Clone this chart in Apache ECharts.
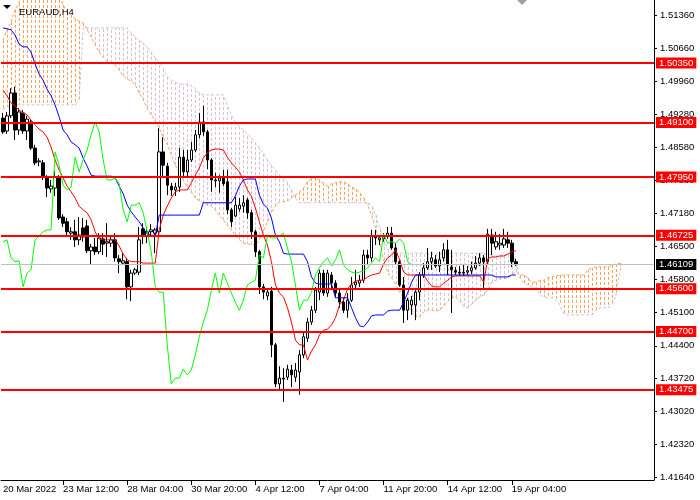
<!DOCTYPE html>
<html><head><meta charset="utf-8">
<script src="https://cdn.jsdelivr.net/npm/echarts@6/dist/echarts.min.js"></script>
<style>html,body{margin:0;padding:0;background:#fff}#c{width:700px;height:500px}</style>
</head><body><div id="c"></div>
<script>
// ---- data ----
const symbolTitle = 'EURAUD,H4';
const tickBars = [0, 15, 31, 47, 63, 79, 95, 111, 127];
const tickLabels = ['20 Mar 2022','23 Mar 12:00','28 Mar 04:00','30 Mar 20:00','4 Apr 12:00','7 Apr 04:00','11 Apr 20:00','14 Apr 12:00','19 Apr 04:00'];
const yTicks = [1.5136,1.5066,1.4996,1.4928,1.4858,1.4788,1.4718,1.4650,1.4580,1.4510,1.4440,1.4372,1.4302,1.4232,1.4164];
const yMin = 1.41577, yMax = 1.51676;
const levels = [1.5035, 1.4910, 1.4795, 1.46725, 1.4560, 1.4470, 1.43475];
const lastPrice = 1.46109;
const slotCount = 163;

const opens = [1.4919,1.4892,1.4924,1.4972,1.4894,1.4930,1.4892,1.4911,1.4856,1.4827,
1.4825,1.4795,1.4770,1.4772,1.4793,1.4711,1.4701,1.4677,1.4680,1.4663,
1.4688,1.4692,1.4640,1.4648,1.4638,1.4665,1.4656,1.4656,1.4663,1.4623,
1.4614,1.4617,1.4564,1.4593,1.4595,1.4686,1.4671,1.4680,1.4677,1.4680,
1.4848,1.4818,1.4776,1.4768,1.4774,1.4837,1.4806,1.4831,1.4852,1.4884,
1.4911,1.4890,1.4831,1.4787,1.4787,1.4793,1.4785,1.4726,1.4713,1.4728,
1.4734,1.4747,1.4720,1.4680,1.4638,1.4564,1.4545,1.4555,1.4442,1.4360,
1.4370,1.4374,1.4389,1.4374,1.4385,1.4421,1.4456,1.4490,1.4515,1.4553,
1.4593,1.4551,1.4589,1.4572,1.4551,1.4532,1.4515,1.4536,1.4568,1.4572,
1.4578,1.4631,1.4625,1.4671,1.4663,1.4665,1.4671,1.4677,1.4646,1.4617,
1.4568,1.4515,1.4526,1.4526,1.4553,1.4589,1.4604,1.4617,1.4621,1.4608,
1.4625,1.4642,1.4606,1.4598,1.4595,1.4593,1.4595,1.4598,1.4604,1.4614,
1.4625,1.4617,1.4673,1.4648,1.4652,1.4652,1.4663,1.4656,1.4617];
const closes = [1.4890,1.4924,1.4972,1.4894,1.4932,1.4892,1.4917,1.4856,1.4825,1.4829,
1.4795,1.4772,1.4776,1.4795,1.4709,1.4698,1.4680,1.4680,1.4663,1.4673,
1.4669,1.4640,1.4648,1.4638,1.4667,1.4654,1.4659,1.4663,1.4625,1.4617,
1.4619,1.4564,1.4593,1.4600,1.4663,1.4671,1.4680,1.4684,1.4684,1.4848,
1.4820,1.4778,1.4768,1.4774,1.4837,1.4806,1.4831,1.4852,1.4884,1.4911,
1.4890,1.4831,1.4789,1.4789,1.4793,1.4781,1.4726,1.4701,1.4736,1.4736,
1.4741,1.4720,1.4680,1.4638,1.4564,1.4553,1.4553,1.4442,1.4360,1.4372,
1.4372,1.4391,1.4379,1.4389,1.4421,1.4459,1.4490,1.4515,1.4557,1.4593,
1.4551,1.4593,1.4572,1.4551,1.4532,1.4515,1.4536,1.4568,1.4574,1.4578,
1.4631,1.4625,1.4671,1.4667,1.4667,1.4671,1.4677,1.4646,1.4617,1.4568,
1.4515,1.4536,1.4536,1.4553,1.4589,1.4604,1.4617,1.4625,1.4608,1.4621,
1.4642,1.4610,1.4600,1.4595,1.4593,1.4595,1.4598,1.4604,1.4614,1.4625,
1.4617,1.4675,1.4656,1.4659,1.4656,1.4665,1.4656,1.4617,1.4611];
const lows = [1.4886,1.4886,1.4919,1.4873,1.4884,1.4886,1.4873,1.4852,1.4820,1.4818,
1.4789,1.4753,1.4762,1.4755,1.4705,1.4690,1.4671,1.4663,1.4648,1.4652,
1.4659,1.4635,1.4610,1.4631,1.4633,1.4631,1.4627,1.4648,1.4617,1.4593,
1.4610,1.4538,1.4534,1.4589,1.4589,1.4654,1.4656,1.4669,1.4635,1.4671,
1.4793,1.4757,1.4755,1.4755,1.4764,1.4793,1.4795,1.4827,1.4848,1.4877,
1.4882,1.4812,1.4764,1.4774,1.4762,1.4776,1.4717,1.4690,1.4711,1.4722,
1.4720,1.4707,1.4665,1.4627,1.4549,1.4538,1.4536,1.4416,1.4353,1.4347,
1.4322,1.4368,1.4353,1.4364,1.4337,1.4414,1.4448,1.4484,1.4509,1.4536,
1.4545,1.4543,1.4557,1.4541,1.4520,1.4509,1.4499,1.4532,1.4557,1.4564,
1.4572,1.4610,1.4617,1.4652,1.4652,1.4659,1.4665,1.4642,1.4612,1.4564,
1.4488,1.4494,1.4505,1.4494,1.4536,1.4583,1.4600,1.4600,1.4604,1.4595,
1.4617,1.4589,1.4509,1.4589,1.4587,1.4587,1.4589,1.4591,1.4600,1.4608,
1.4562,1.4610,1.4631,1.4642,1.4642,1.4646,1.4646,1.4606,1.4608];
const highs = [1.4930,1.4932,1.4982,1.4985,1.4940,1.4936,1.4924,1.4915,1.4863,1.4835,
1.4831,1.4799,1.4789,1.4808,1.4799,1.4717,1.4709,1.4690,1.4705,1.4711,
1.4709,1.4705,1.4654,1.4667,1.4677,1.4677,1.4698,1.4673,1.4677,1.4631,
1.4635,1.4625,1.4600,1.4604,1.4690,1.4698,1.4690,1.4696,1.4688,1.4898,
1.4879,1.4825,1.4783,1.4783,1.4856,1.4852,1.4852,1.4869,1.4894,1.4930,
1.4945,1.4894,1.4835,1.4804,1.4799,1.4810,1.4810,1.4730,1.4753,1.4751,
1.4757,1.4751,1.4726,1.4684,1.4642,1.4570,1.4560,1.4564,1.4446,1.4397,
1.4393,1.4400,1.4400,1.4404,1.4431,1.4467,1.4499,1.4524,1.4564,1.4600,
1.4600,1.4600,1.4595,1.4578,1.4562,1.4541,1.4551,1.4585,1.4600,1.4589,
1.4642,1.4642,1.4684,1.4684,1.4671,1.4677,1.4690,1.4690,1.4656,1.4621,
1.4585,1.4541,1.4545,1.4557,1.4595,1.4614,1.4646,1.4638,1.4631,1.4638,
1.4656,1.4663,1.4642,1.4606,1.4608,1.4612,1.4608,1.4617,1.4629,1.4635,
1.4631,1.4686,1.4686,1.4680,1.4675,1.4686,1.4680,1.4663,1.4623];

const tenkan = [1.4978,1.4966,1.4951,1.4945,1.4936,1.4930,1.4926,1.4915,1.4905,1.4896,
1.4890,1.4879,1.4858,1.4831,1.4810,1.4793,1.4776,1.4764,1.4751,1.4734,
1.4726,1.4720,1.4705,1.4680,1.4665,1.4663,1.4663,1.4663,1.4663,1.4650,
1.4633,1.4621,1.4617,1.4617,1.4617,1.4614,1.4614,1.4614,1.4614,1.4684,
1.4715,1.4734,1.4751,1.4764,1.4768,1.4768,1.4768,1.4783,1.4799,1.4814,
1.4835,1.4846,1.4852,1.4854,1.4854,1.4852,1.4837,1.4825,1.4816,1.4806,
1.4789,1.4768,1.4755,1.4730,1.4701,1.4673,1.4652,1.4617,1.4568,1.4551,
1.4543,1.4520,1.4490,1.4452,1.4442,1.4442,1.4410,1.4429,1.4442,1.4463,
1.4473,1.4475,1.4484,1.4499,1.4526,1.4536,1.4560,1.4570,1.4576,1.4578,
1.4578,1.4585,1.4589,1.4591,1.4593,1.4612,1.4625,1.4631,1.4642,1.4621,
1.4595,1.4589,1.4589,1.4589,1.4589,1.4589,1.4576,1.4566,1.4564,1.4564,
1.4572,1.4578,1.4585,1.4587,1.4587,1.4587,1.4587,1.4587,1.4587,1.4587,
1.4574,1.4623,1.4627,1.4627,1.4629,1.4629,1.4633,1.4638,1.4640];
const kijun = [1.5109,1.5107,1.5105,1.5094,1.5075,1.5069,1.5069,1.5058,1.5033,1.5012,
1.4999,1.4980,1.4966,1.4947,1.4922,1.4894,1.4884,1.4869,1.4863,1.4856,
1.4835,1.4818,1.4799,1.4797,1.4797,1.4797,1.4797,1.4797,1.4793,1.4776,
1.4760,1.4736,1.4722,1.4711,1.4701,1.4688,1.4675,1.4673,1.4671,1.4715,
1.4715,1.4715,1.4715,1.4715,1.4715,1.4715,1.4715,1.4715,1.4715,1.4715,
1.4741,1.4741,1.4741,1.4741,1.4741,1.4741,1.4741,1.4741,1.4755,1.4776,
1.4789,1.4791,1.4791,1.4791,1.4757,1.4738,1.4730,1.4709,1.4673,1.4659,
1.4635,1.4633,1.4633,1.4633,1.4633,1.4633,1.4617,1.4585,1.4572,1.4570,
1.4570,1.4570,1.4570,1.4541,1.4541,1.4541,1.4541,1.4520,1.4499,1.4482,
1.4480,1.4490,1.4503,1.4505,1.4505,1.4505,1.4513,1.4515,1.4515,1.4515,
1.4532,1.4551,1.4574,1.4589,1.4589,1.4589,1.4589,1.4589,1.4589,1.4589,
1.4589,1.4589,1.4589,1.4589,1.4589,1.4589,1.4589,1.4589,1.4589,1.4589,
1.4589,1.4589,1.4589,1.4585,1.4585,1.4585,1.4585,1.4589,1.4589];
const spanA = [1.5083,1.5105,1.5121,1.5147,1.5161,1.5189,1.5199,1.5210,1.5214,1.5214,
1.5210,1.5206,1.5199,1.5193,1.5184,1.5157,1.5142,1.5136,1.5128,1.5123,
1.5119,1.5105,1.5090,1.5073,1.5058,1.5048,1.5039,1.5035,1.5031,1.5020,
1.5008,1.5001,1.4997,1.4989,1.4972,1.4957,1.4940,1.4926,1.4913,1.4898,
1.4879,1.4863,1.4842,1.4820,1.4804,1.4789,1.4774,1.4764,1.4751,1.4745,
1.4741,1.4736,1.4734,1.4726,1.4715,1.4705,1.4694,1.4684,1.4673,1.4663,
1.4656,1.4654,1.4654,1.4652,1.4663,1.4680,1.4701,1.4720,1.4734,1.4743,
1.4743,1.4745,1.4751,1.4757,1.4764,1.4772,1.4785,1.4793,1.4793,1.4789,
1.4783,1.4776,1.4781,1.4783,1.4785,1.4785,1.4781,1.4774,1.4770,1.4762,
1.4751,1.4736,1.4715,1.4688,1.4659,1.4621,1.4595,1.4583,1.4570,1.4553,
1.4541,1.4526,1.4511,1.4501,1.4501,1.4511,1.4515,1.4515,1.4513,1.4515,
1.4524,1.4534,1.4541,1.4543,1.4534,1.4524,1.4520,1.4528,1.4536,1.4543,
1.4547,1.4557,1.4574,1.4578,1.4581,1.4581,1.4583,1.4591,1.4595,1.4589,
1.4589,1.4583,1.4574,1.4574,1.4578,1.4578,1.4583,1.4585,1.4587,1.4589,
1.4589,1.4589,1.4589,1.4589,1.4589,1.4589,1.4600,1.4604,1.4606,1.4606,
1.4606,1.4606,1.4610,1.4612,1.4614];
const spanB = [1.4936,1.4943,1.4947,1.4947,1.4947,1.4947,1.4947,1.4947,1.4947,1.4947,
1.4947,1.4947,1.4947,1.4947,1.4947,1.4947,1.4947,1.4947,1.4947,1.4957,
1.5109,1.5109,1.5109,1.5109,1.5109,1.5109,1.5109,1.5109,1.5109,1.5109,
1.5109,1.5109,1.5098,1.5090,1.5083,1.5077,1.5069,1.5058,1.5046,1.5037,
1.5024,1.5006,1.4999,1.4995,1.4991,1.4991,1.4991,1.4987,1.4982,1.4972,
1.4968,1.4968,1.4968,1.4968,1.4968,1.4968,1.4947,1.4926,1.4911,1.4901,
1.4894,1.4886,1.4877,1.4867,1.4856,1.4846,1.4831,1.4820,1.4810,1.4799,
1.4793,1.4785,1.4768,1.4751,1.4741,1.4741,1.4741,1.4741,1.4741,1.4741,
1.4741,1.4741,1.4741,1.4741,1.4741,1.4741,1.4741,1.4741,1.4741,1.4741,
1.4741,1.4741,1.4736,1.4715,1.4688,1.4663,1.4642,1.4635,1.4635,1.4635,
1.4635,1.4635,1.4635,1.4635,1.4635,1.4635,1.4635,1.4635,1.4635,1.4635,
1.4635,1.4635,1.4635,1.4635,1.4635,1.4635,1.4635,1.4635,1.4635,1.4635,
1.4635,1.4631,1.4631,1.4631,1.4631,1.4631,1.4631,1.4631,1.4617,1.4583,
1.4572,1.4568,1.4564,1.4562,1.4547,1.4543,1.4541,1.4541,1.4536,1.4526,
1.4507,1.4505,1.4505,1.4505,1.4505,1.4505,1.4505,1.4505,1.4515,1.4520,
1.4520,1.4520,1.4526,1.4547,1.4600];

// ---- chart ----
const FONT = 'Liberation Sans';
const FS = 9.5;
const categories = Array.from({length: slotCount}, (_, i) => String(i));
const candleData = opens.map((o, i) => [o, closes[i], lows[i], highs[i]]);
const chikou = closes.slice(26);
const cloudData = spanA.map((a, i) => [i, a, spanB[i]]);
const tickMap = {};
tickBars.forEach((b, k) => { tickMap[b] = tickLabels[k]; });

const chart = echarts.init(document.getElementById('c'), null, {renderer: 'canvas'});

const labelBase = {show: true, position: 'end', distance: 2, color: '#fff',
  padding: [1, 3, 0, 3], fontFamily: FONT, fontSize: FS, lineHeight: 10};
const levelLines = levels.map(v => ({
  yAxis: v,
  lineStyle: {color: '#FF0000', width: 2, type: 'solid'},
  label: Object.assign({}, labelBase, {formatter: v.toFixed(5), backgroundColor: '#FF0000'})
}));
levelLines.push({
  yAxis: lastPrice,
  lineStyle: {color: '#C0C0C0', width: 1, type: 'solid'},
  label: Object.assign({}, labelBase, {formatter: lastPrice.toFixed(5), backgroundColor: '#000'})
});

const clampV = (v) => Math.max(yMin, Math.min(yMax, v));

const option = {
  animation: false,
  backgroundColor: '#fff',
  title: {text: symbolTitle, left: 14, top: 2,
    textStyle: {fontFamily: FONT, fontSize: FS, fontWeight: 'normal', color: '#000'}},
  graphic: [
    {type: 'polygon', shape: {points: [[3, 5], [11, 5], [7, 9]]}, style: {fill: '#000'}},
    {type: 'polygon', shape: {points: [[517, 0], [527, 0], [522, 5]]}, style: {fill: '#A0A0A0'}}
  ],
  grid: {left: 1, top: 0, width: 653, height: 480},
  xAxis: {
    type: 'category', data: categories, boundaryGap: true,
    axisLine: {show: true, lineStyle: {color: '#000', width: 1}},
    axisTick: {show: true, alignWithLabel: true, length: 5,
      interval: (i) => i !== 0 && tickMap[i] !== undefined, lineStyle: {color: '#000'}},
    axisLabel: {show: true, interval: (i) => tickMap[i] !== undefined,
      formatter: (v, i) => tickMap[i] || '', align: 'left', margin: 4,
      color: '#000', fontFamily: FONT, fontSize: FS},
    splitLine: {show: false}
  },
  yAxis: {
    type: 'value', position: 'right', min: yMin, max: yMax,
    axisLine: {show: true, lineStyle: {color: '#000', width: 1}},
    axisTick: {show: true, length: 3, customValues: yTicks, lineStyle: {color: '#000'}},
    axisLabel: {show: true, customValues: yTicks, formatter: (v) => v.toFixed(5),
      margin: 6, color: '#000', fontFamily: FONT, fontSize: FS},
    splitLine: {show: false}
  },
  series: [
    {
      type: 'custom', name: 'cloud', z: 1, silent: true,
      data: cloudData, encode: {x: 0, y: [1, 2]},
      renderItem: (params, api) => {
        const idx = params.dataIndex;
        const a = spanA[idx], b = spanB[idx];
        const pa = api.coord([idx, clampV(a)]);
        const pb = api.coord([idx, clampV(b)]);
        const x = Math.round(pa[0]) + 0.5;
        return {type: 'line', shape: {x1: x, y1: pa[1], x2: x, y2: pb[1]},
          style: {stroke: a >= b ? '#F4A460' : '#D8BFD8', lineWidth: 1, lineDash: [3, 2]}};
      }
    },
    {type: 'line', name: 'spanA', data: spanA, z: 2, symbol: 'none', silent: true,
      lineStyle: {color: '#F4A460', width: 1, type: [3, 2]}},
    {type: 'line', name: 'spanB', data: spanB, z: 2, symbol: 'none', silent: true,
      lineStyle: {color: '#D8BFD8', width: 1, type: [3, 2]}},
    {
      type: 'candlestick', name: 'EURAUD', data: candleData, z: 3, barWidth: 3, silent: true,
      itemStyle: {color: '#fff', color0: '#000', borderColor: '#000', borderColor0: '#000',
        borderColorDoji: '#000', borderWidth: 1},
      markLine: {symbol: ['none', 'none'], silent: true, animation: false, precision: 6, z: 6, data: levelLines}
    },
    {type: 'line', name: 'tenkan', data: tenkan, z: 4, symbol: 'none', silent: true,
      lineStyle: {color: '#FF0000', width: 1}},
    {type: 'line', name: 'kijun', data: kijun, z: 4, symbol: 'none', silent: true,
      lineStyle: {color: '#0000FF', width: 1}},
    {type: 'line', name: 'chikou', data: chikou, z: 4, symbol: 'none', silent: true,
      lineStyle: {color: '#00FF00', width: 1}}
  ]
};
chart.setOption(option);
</script></body></html>
